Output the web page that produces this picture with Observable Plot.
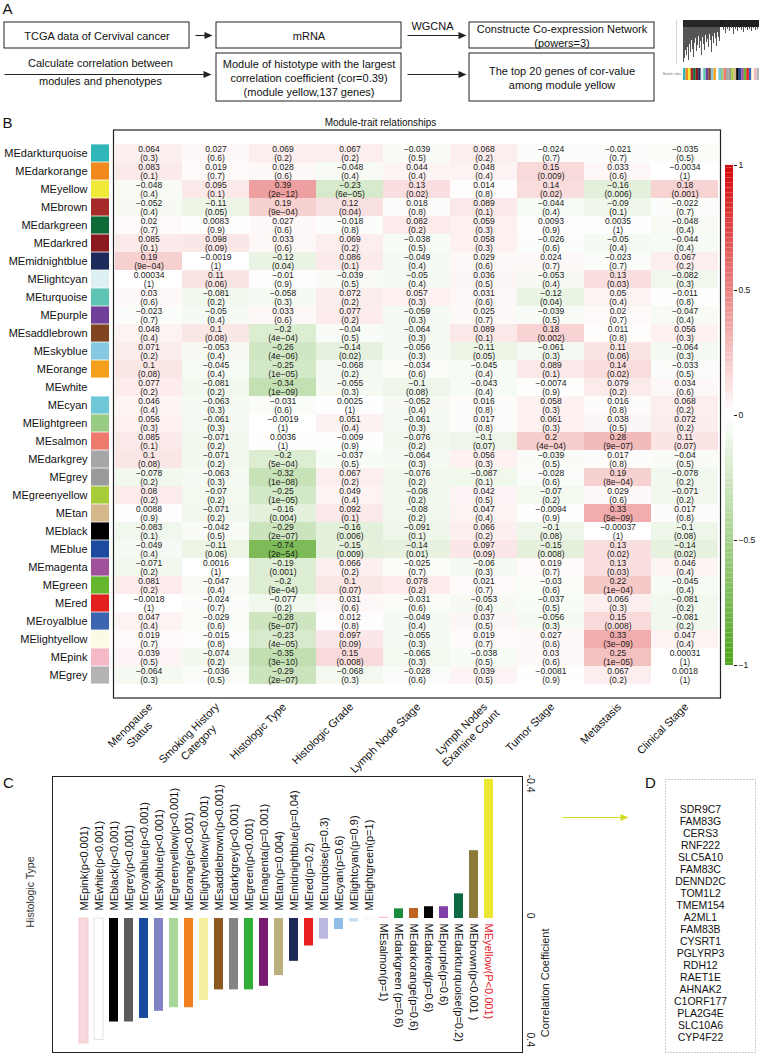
<!DOCTYPE html>
<html><head><meta charset="utf-8">
<script src="https://cdn.jsdelivr.net/npm/d3@7"></script>
<script src="https://cdn.jsdelivr.net/npm/@observablehq/plot@0.6"></script>
<style>
body{margin:0;background:#fff;}
#fig{position:relative;width:759px;height:1054px;overflow:hidden;background:#fff;font-family:"Liberation Sans",Arial,sans-serif;color:#111;}
#fig svg{position:absolute;background:transparent;overflow:visible;}
</style></head><body><div id="fig"></div>
<script>
// ---------------- DATA ----------------
const traitLabels = ["Menopause\nStatus","Smoking History\nCategory","Histologic Type","Histologic Grade","Lymph Node Stage","Lymph Nodes\nExamine Count","Tumor Stage","Metastasis","Clinical Stage"];
const moduleNames = ["MEdarkturquoise","MEdarkorange","MEyellow","MEbrown","MEdarkgreen","MEdarkred","MEmidnightblue","MElightcyan","MEturquoise","MEpurple","MEsaddlebrown","MEskyblue","MEorange","MEwhite","MEcyan","MElightgreen","MEsalmon","MEdarkgrey","MEgrey","MEgreenyellow","MEtan","MEblack","MEblue","MEmagenta","MEgreen","MEred","MEroyalblue","MElightyellow","MEpink","MEgrey"];
const moduleColors = ["#30b6b8","#f08a1e","#f2ea3a","#a62a2a","#0f6a3a","#8a1a20","#1d2a5c","#dff0f2","#5ec4b4","#6f3f99","#804320","#86c8e2","#f4a01c","#ffffff","#6ec8d8","#98cc84","#ee7a6e","#a6a6a6","#9a9a9a","#a6cc3a","#d4b88c","#000000","#1c4a9e","#a1519c","#64b62e","#e4201e","#3c64b0","#fbfae2","#f4b8c6","#b4b4b4"];
const corMatrix = [
[0.064,0.027,0.069,0.067,-0.039,0.068,-0.024,-0.021,-0.035],
[0.083,0.019,0.028,-0.048,0.044,0.048,0.15,0.033,-0.0034],
[-0.048,0.095,0.39,-0.23,0.13,0.014,0.14,-0.16,0.18],
[-0.052,-0.11,0.19,0.12,0.018,0.089,-0.044,-0.09,-0.022],
[0.02,0.0083,0.027,-0.018,0.082,0.059,0.0093,0.0035,-0.048],
[0.085,0.098,0.033,0.069,-0.038,0.058,-0.026,-0.05,-0.044],
[0.19,-0.0019,-0.12,0.086,-0.049,0.029,0.024,-0.023,0.067],
[0.00034,0.11,-0.01,-0.039,-0.05,0.036,-0.053,0.13,-0.082],
[0.03,-0.081,-0.058,0.072,0.057,0.031,-0.12,0.05,-0.011],
[-0.023,-0.05,0.033,0.077,-0.059,0.025,-0.039,0.02,-0.047],
[0.048,0.1,-0.2,-0.04,-0.064,0.089,0.18,0.011,0.056],
[0.071,-0.053,-0.26,-0.14,-0.056,-0.11,-0.061,0.11,-0.064],
[0.1,-0.045,-0.25,-0.068,-0.034,-0.045,0.089,0.14,-0.033],
[0.077,-0.081,-0.34,-0.055,-0.1,-0.043,-0.0074,0.079,0.034],
[0.046,-0.063,-0.031,0.0025,-0.052,0.016,0.058,0.016,0.068],
[0.056,-0.061,-0.0019,0.051,-0.061,0.017,0.061,0.038,0.072],
[0.085,-0.071,0.0036,-0.009,-0.076,-0.1,0.2,0.28,0.11],
[0.1,-0.071,-0.2,-0.037,-0.064,0.056,-0.039,0.017,-0.04],
[-0.078,-0.063,-0.32,0.067,-0.076,-0.087,-0.028,0.19,-0.078],
[0.08,-0.07,-0.25,0.049,-0.08,0.042,-0.07,0.029,-0.071],
[0.0088,-0.071,-0.16,0.092,-0.08,0.047,-0.0094,0.33,0.017],
[-0.083,-0.042,-0.29,-0.16,-0.091,0.066,-0.1,-0.00037,-0.1],
[-0.049,-0.11,-0.74,-0.15,-0.14,0.097,-0.15,0.13,-0.14],
[-0.071,0.0016,-0.19,0.066,-0.025,-0.06,0.019,0.13,0.046],
[0.081,-0.047,-0.2,0.1,0.078,0.021,-0.03,0.22,-0.045],
[-0.0018,-0.024,-0.077,0.031,-0.031,-0.053,-0.037,0.066,-0.081],
[0.047,-0.029,-0.28,0.012,-0.049,0.037,-0.056,0.15,-0.081],
[0.019,-0.015,-0.23,0.097,-0.055,0.019,0.027,0.33,0.047],
[0.039,-0.074,-0.35,0.15,-0.065,-0.038,0.03,0.25,0.00031],
[-0.064,-0.036,-0.29,-0.068,-0.028,0.039,-0.0081,0.067,0.0018]
];
const pMatrix = [
["0.3","0.6","0.2","0.2","0.5","0.2","0.7","0.7","0.5"],
["0.1","0.7","0.6","0.4","0.4","0.4","0.009","0.6","1"],
["0.4","0.1","2e-12","6e-05","0.02","0.8","0.02","0.006","0.001"],
["0.4","0.05","9e-04","0.04","0.8","0.1","0.4","0.1","0.7"],
["0.7","0.9","0.6","0.8","0.2","0.3","0.9","1","0.4"],
["0.1","0.09","0.6","0.2","0.5","0.3","0.6","0.4","0.4"],
["9e-04","1","0.04","0.1","0.4","0.6","0.7","0.7","0.2"],
["1","0.06","0.9","0.5","0.4","0.5","0.4","0.03","0.3"],
["0.6","0.2","0.3","0.2","0.3","0.6","0.04","0.4","0.8"],
["0.7","0.4","0.6","0.2","0.3","0.7","0.5","0.7","0.4"],
["0.4","0.08","4e-04","0.5","0.3","0.1","0.002","0.8","0.3"],
["0.2","0.4","4e-06","0.02","0.3","0.05","0.3","0.06","0.3"],
["0.08","0.4","1e-05","0.2","0.6","0.4","0.1","0.02","0.5"],
["0.2","0.2","1e-09","0.3","0.08","0.4","0.9","0.2","0.6"],
["0.4","0.3","0.6","1","0.4","0.8","0.3","0.8","0.2"],
["0.3","0.3","1","0.4","0.3","0.8","0.3","0.5","0.2"],
["0.1","0.2","1","0.9","0.2","0.07","4e-04","9e-07","0.07"],
["0.08","0.2","5e-04","0.5","0.3","0.3","0.5","0.8","0.5"],
["0.2","0.3","1e-08","0.2","0.2","0.1","0.6","8e-04","0.2"],
["0.2","0.2","1e-05","0.4","0.2","0.5","0.2","0.6","0.2"],
["0.9","0.2","0.004","0.1","0.2","0.4","0.9","5e-09","0.8"],
["0.1","0.5","2e-07","0.006","0.1","0.2","0.08","1","0.08"],
["0.4","0.06","2e-54","0.009","0.01","0.09","0.008","0.02","0.02"],
["0.2","1","0.001","0.2","0.7","0.3","0.7","0.03","0.4"],
["0.2","0.4","5e-04","0.07","0.2","0.7","0.6","1e-04","0.4"],
["1","0.7","0.2","0.6","0.6","0.4","0.5","0.3","0.2"],
["0.4","0.6","5e-07","0.8","0.4","0.5","0.3","0.008","0.2"],
["0.7","0.8","4e-05","0.09","0.3","0.7","0.6","3e-09","0.4"],
["0.5","0.2","3e-10","0.008","0.3","0.5","0.6","1e-05","1"],
["0.3","0.5","2e-07","0.3","0.6","0.5","0.9","0.2","1"]
];
const colorbarTicks = [-1,-0.5,0,0.5,1];

const histoLabels = ["MEpink(p<0.001)","MEwhite(p<0.001)","MEblack(p<0.001)","MEgrey(p<0.001)","MEroyalblue(p<0.001)","MEskyblue(p<0.001)","MEgreenyellow(p<0.001)","MEorange(p<0.001)","MElightyellow(p<0.001)","MEsaddlebrown(p<0.001)","MEdarkgrey(p<0.001)","MEgreen(p<0.001)","MEmagenta(p=0.001)","MEtan(p=0.004)","MEmidnightblue(p=0.04)","MEred(p=0.2)","MEturqioise(p=0.3)","MEcyan(p=0.6)","MElightcyan(p=0.9)","MElightgreen(p=1)","MEsalmon(p=1)","MEdarkgreen (p=0.6)","MEdarkorange(p=0.6)","MEdarkred(p=0.6)","MEpurple(p=0.6)","MEdarkturquoise(p=0.2)","MEbrown(p<0.001 )","MEyellow(P<0.001)"];
const histoCor = [-0.35,-0.34,-0.29,-0.29,-0.28,-0.26,-0.25,-0.25,-0.23,-0.2,-0.2,-0.2,-0.19,-0.16,-0.12,-0.077,-0.058,-0.031,-0.01,-0.0019,0.0036,0.027,0.028,0.033,0.033,0.069,0.19,0.39];
const histoColors = ["#f8d8dc","#ffffff","#000000","#5c5c5c","#1a4aa0","#8084c4","#a8d898","#f08020","#f6f0a0","#8c5a20","#848484","#30b038","#781a72","#bcb07c","#1c2858","#e82020","#b8b8e0","#90bce8","#c8e0f4","#e8f0e8","#f8c0c8","#1a8c3c","#c06424","#050505","#8040a8","#0c6a42","#8c7a3a","#ece832"];
const histoStrokes = ["#efc4ca","#dcdcdc"];
const axisTickLabels = ["-0.4","0","0.4"];
const axisTickAt = [0.353,0,-0.36];

const genes = ["SDR9C7","FAM83G","CERS3","RNF222","SLC5A10","FAM83C","DENND2C","TOM1L2","TMEM154","A2ML1","FAM83B","CYSRT1","PGLYRP3","RDH12","RAET1E","AHNAK2","C1ORF177","PLA2G4E","SLC10A6","CYP4F22"];

const flowTexts = ["TCGA data of Cervival cancer","mRNA","Constructe Co-expression Network\n(powers=3)","Module of histotype with the largest\ncorrelation coefficient (cor=0.39)\n(module yellow,137 genes)","The top 20 genes of cor-value\namong module yellow"];
const flowNotes = ["WGCNA","Calculate correlation between","modules and phenotypes"];

// ---------------- LAYOUT ----------------
const FONT = "'Liberation Sans', Arial, Helvetica, sans-serif";
const GREEN = "#4fa31d", RED = "#d40808";
const boxPos = [{x1:4,x2:189,y1:22,y2:48},{x1:216,x2:401,y1:22,y2:48},{x1:469,x2:654,y1:22,y2:48},{x1:216,x2:401,y1:53,y2:101},{x1:469,x2:654,y1:53,y2:101}];
const notePos = [{x:432,y:26},{x:100,y:63},{x:100,y:81}];
const arrowPos = [{x1:195,x2:212,y:35,c:"#222"},{x1:407,x2:466,y:35,c:"#222"},{x1:4,x2:211,y:74,c:"#222"},{x1:407,x2:466,y:74,c:"#222"},{x1:562,x2:628,y:817,c:"#d2dc22"}];
const letters = [{t:"A",x:7,y:9},{t:"B",x:7,y:123},{t:"C",x:8,y:783},{t:"D",x:650,y:783}];
const dendroDrops = [[683,62],[684,58],[685,50],[686,55],[687,47],[688,60],[689,44],[690,52],[691,40],[692,49],[693,57],[694,43],[695,38],[696,51],[697,45],[698,36],[699,48],[700,41],[701,55],[702,37],[703,44],[704,50],[705,35],[706,42],[707,39],[708,47],[709,34],[710,40],[711,52],[712,36],[713,43],[714,33],[715,38],[716,46],[717,32],[718,37],[719,41],[723,30],[725,33],[727,29],[729,31],[731,28],[733,34],[735,29],[737,31],[739,28],[741,30],[743,32],[745,28],[747,30],[749,29],[751,31],[753,28],[755,30],[757,29]];

const fig = document.getElementById("fig");
const place = (svg, left, top) => { svg.style.left = left + "px"; svg.style.top = top + "px"; fig.appendChild(svg); };
const fmt = v => String(v).replace("-", "\u2212");

// ---------------- PANEL B : heatmap ----------------
const cells = [];
corMatrix.forEach((row, i) => row.forEach((v, j) => cells.push({row: i, trait: j, cor: v, p: pMatrix[i][j]})));
const HM_TOP = 100, HM_H = 675, MT = 29.5, MB = 77.5;

const ctx = document.createElement("canvas").getContext("2d");
ctx.font = "11px " + FONT;
const colLabelMarks = traitLabels.map((lab, j) => {
  const lines = lab.split("\n");
  const w = ctx.measureText(lines[0]).width;
  const n = lines.length, lh = 11 * 1.2, c = Math.SQRT1_2;
  const dx = 1 - (w / 2) * c + ((n - 1) / 2) * lh * c;
  const dy = 6.5 + (w / 2) * c + ((n - 1) / 2) * lh * c;
  return Plot.text([j], {x: d => d, frameAnchor: "bottom", text: () => lab, rotate: -45, textAnchor: "middle", lineAnchor: "middle", fontSize: 11, lineHeight: 1.2, fill: "#111", dx, dy});
});

const heat = Plot.plot({
  width: 759, height: HM_H,
  marginLeft: 113, marginRight: 39, marginTop: MT, marginBottom: MB,
  style: {background: "transparent", fontFamily: FONT, overflow: "visible"},
  x: {domain: d3.range(9), padding: 0, axis: null},
  y: {domain: d3.range(moduleNames.length), padding: 0, axis: null},
  color: {type: "linear", domain: [-1, 0, 1], range: [GREEN, "#ffffff", RED], interpolate: "rgb"},
  marks: [
    Plot.cell(cells, {x: "trait", y: "row", fill: "cor"}),
    Plot.text(cells, {x: "trait", y: "row", text: d => fmt(d.cor) + "\n(" + d.p.replace("-", "\u2212") + ")", fontSize: 8.5, lineHeight: 1.08, fill: "#1a1a1a"}),
    Plot.frame({stroke: "#222", strokeWidth: 1.2}),
    ...colLabelMarks
  ]
});
place(heat, 0, HM_TOP);

const sw = Plot.plot({
  width: 113, height: HM_H,
  marginLeft: 91, marginRight: 4, marginTop: MT, marginBottom: MB,
  style: {background: "transparent", fontFamily: FONT, overflow: "visible", color: "#111"},
  x: {domain: ["s"], padding: 0, axis: null},
  y: {domain: d3.range(moduleNames.length), padding: 0, axis: null},
  color: {type: "identity"},
  marks: [
    Plot.cell(d3.range(moduleNames.length), {x: () => "s", y: d => d, fill: d => moduleColors[d], insetTop: 0.4, insetBottom: 0.4}),
    Plot.axisY({anchor: "left", tickSize: 0, tickPadding: 4, fontSize: 11, tickFormat: i => moduleNames[i]})
  ]
});
place(sw, 0, HM_TOP);

// colorbar
const rampStops = d3.range(-1, 1, 0.01);
const cbar = Plot.plot({
  width: 44, height: HM_H,
  marginLeft: 10, marginRight: 26, marginTop: 65, marginBottom: 110,
  style: {background: "transparent", fontFamily: FONT, overflow: "visible", color: "#111"},
  x: {domain: [0, 1], axis: null},
  y: {domain: [-1, 1], axis: null},
  color: {type: "linear", domain: [-1, 0, 1], range: [GREEN, "#ffffff", RED], interpolate: "rgb"},
  marks: [
    Plot.rect(rampStops, {x1: 0, x2: 1, y1: d => d, y2: d => d + 0.0102, fill: d => d}),
    Plot.axisY({anchor: "right", ticks: colorbarTicks, tickSize: 3, tickPadding: 2, fontSize: 8.5, tickFormat: fmt})
  ]
});
place(cbar, 715, HM_TOP);

// ---------------- PANEL C ----------------
const histo = histoLabels.map((l, i) => ({label: l, cor: histoCor[i], color: histoColors[i], stroke: histoStrokes[i] || "none"}));
const ticksC = axisTickLabels.map((t, i) => ({t, v: axisTickAt[i]}));
const cPlot = Plot.plot({
  width: 560, height: 284,
  marginLeft: 52, marginRight: 38, marginTop: 6, marginBottom: 2,
  style: {background: "transparent", fontFamily: FONT, overflow: "visible", color: "#111"},
  x: {type: "band", domain: histoLabels, range: [73.8, 497.8], paddingInner: 0.38, paddingOuter: 0, axis: null},
  y: {domain: [-0.3754, 0.3978], axis: null},
  color: {type: "identity"},
  marks: [
    Plot.barY(histo, {x: "label", y: "cor", fill: "color", stroke: "stroke", strokeWidth: 0.8}),
    Plot.text(histo.filter(d => d.cor < 0), {x: "label", y: 0, text: "label", rotate: -90, textAnchor: "start", dy: -8, fontSize: 11, fill: "#111"}),
    Plot.text(histo.filter(d => d.cor >= 0), {x: "label", y: 0, text: "label", rotate: 90, textAnchor: "start", dy: 5, fontSize: 11, fill: d => d.label.startsWith("MEyellow") ? "#e8202a" : "#111"}),
    Plot.frame({stroke: "#222", strokeWidth: 1}),
    Plot.text(["Histologic Type"], {frameAnchor: "left", dx: -22, dy: 13, rotate: -90, fontSize: 10.5, fill: "#333"}),
    Plot.text(ticksC, {frameAnchor: "right", y: "v", text: "t", dx: 8, rotate: 90, fontSize: 10.5, fill: "#222"}),
    Plot.text(["Correlation Coefficient"], {frameAnchor: "right", dx: 23, dy: 14, rotate: -90, fontSize: 11, fill: "#222"})
  ]
});
place(cPlot, 0, 770);

// ---------------- PANEL D ----------------
const dPlot = Plot.plot({
  width: 99, height: 284,
  marginLeft: 5, marginRight: 4, marginTop: 9, marginBottom: 2,
  style: {background: "transparent", fontFamily: FONT, overflow: "visible", color: "#111"},
  x: {axis: null},
  y: {type: "point", domain: genes, range: [28, 278], axis: null},
  marks: [
    Plot.frame({stroke: "#999", strokeDasharray: "1,2"}),
    Plot.text(genes, {y: d => d, text: d => d, frameAnchor: "middle", dx: -10, fontSize: 10.5, fill: "#111"})
  ]
});
place(dPlot, 660, 770);

// ---------------- OVERLAY : panel A flowchart, labels, arrows ----------------
const boxes = flowTexts.map((t, i) => ({t, ...boxPos[i]}));
const notes = flowNotes.map((t, i) => ({t, ...notePos[i]}));
const heads = [];
arrowPos.forEach((a, i) => { heads.push({id: i, x: a.x2, y: a.y, c: a.c}, {id: i, x: a.x2 - 8, y: a.y - 3.5, c: a.c}, {id: i, x: a.x2 - 8, y: a.y + 3.5, c: a.c}); });
const stripN = moduleColors.length, stripX0 = 683, stripX1 = 759;
const strip = moduleColors.map((c, i) => ({c, x1: stripX0 + i * (stripX1 - stripX0) / stripN, x2: stripX0 + (i + 1) * (stripX1 - stripX0) / stripN}));
const overlay = Plot.plot({
  width: 759, height: 1054, margin: 0,
  style: {background: "transparent", fontFamily: FONT, overflow: "visible", color: "#111", pointerEvents: "none"},
  x: {domain: [0, 759], range: [0, 759], axis: null},
  y: {domain: [0, 1054], range: [0, 1054], axis: null},
  color: {type: "identity"},
  marks: [
    Plot.rect(boxes, {x1: "x1", x2: "x2", y1: "y1", y2: "y2", fill: "none", stroke: "#222", strokeWidth: 1}),
    Plot.text(boxes, {x: d => (d.x1 + d.x2) / 2, y: d => (d.y1 + d.y2) / 2, text: "t", fontSize: 11, lineHeight: 1.28, fill: "#111"}),
    Plot.text(notes, {x: "x", y: "y", text: "t", fontSize: 11, fill: "#111"}),
    Plot.link(arrowPos, {x1: "x1", y1: "y", x2: d => d.x2 - 6, y2: "y", stroke: "c", strokeWidth: 1.1}),
    Plot.line(heads, {x: "x", y: "y", z: "id", fill: "c", stroke: "none"}),
    // dendrogram thumbnail
    Plot.ruleX([676], {y1: 20, y2: 64, stroke: "#bbb", strokeWidth: 0.6}),
    Plot.rect([0], {x1: 683, x2: 759, y1: 20, y2: 27, fill: "#1b1b1b"}),
    Plot.ruleX(dendroDrops, {x: d => d[0], y1: 20, y2: d => d[1], stroke: "#2a2a2a", strokeWidth: 0.8}),
    Plot.rect(strip, {x1: "x1", x2: "x2", y1: 68, y2: 80, fill: "c"}),
    Plot.text(["Module colors"], {x: 681, y: 74, textAnchor: "end", fontSize: 3, fill: "#777"}),
    // panel letters & title
    Plot.text(letters, {x: "x", y: "y", text: "t", fontSize: 15, fill: "#111"}),
    Plot.text(["Module-trait relationships"], {x: 380, y: 122, fontSize: 10, fill: "#111"})
  ]
});
place(overlay, 0, 0);
</script></body></html>
